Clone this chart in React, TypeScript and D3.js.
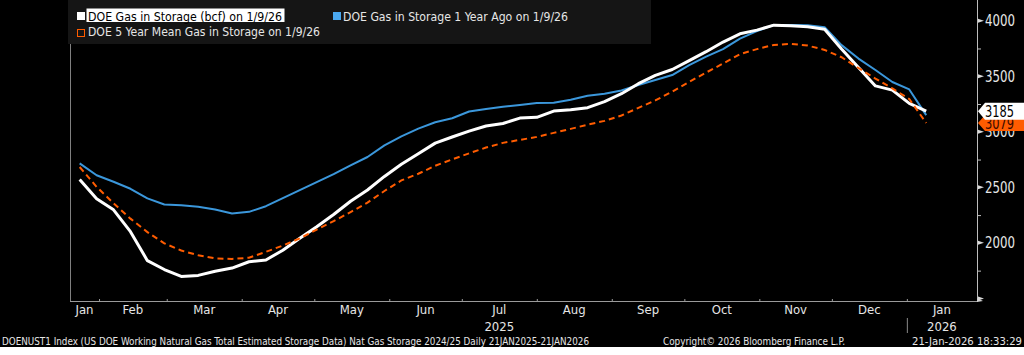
import React from "react";
import * as d3 from "d3";

// ---- Data (weekly, Bcf) ----
const firstWeek = new Date(Date.UTC(2025, 0, 24));
const storage = [2571, 2397, 2297, 2101, 1840, 1760, 1698, 1707, 1744, 1773, 1830, 1846, 1934, 2041, 2145, 2255, 2375, 2476, 2598, 2707, 2802, 2898, 2953, 3006, 3052, 3075, 3123, 3130, 3186, 3199, 3217, 3272, 3343, 3433, 3508, 3561, 3641, 3721, 3808, 3882, 3915, 3960, 3955, 3945, 3923, 3746, 3579, 3413, 3375, 3256, 3185];
const yearAgo = [2716, 2609, 2550, 2487, 2400, 2345, 2338, 2325, 2301, 2265, 2279, 2330, 2402, 2474, 2546, 2618, 2698, 2773, 2878, 2959, 3028, 3086, 3122, 3183, 3206, 3226, 3242, 3260, 3261, 3288, 3325, 3342, 3372, 3421, 3466, 3511, 3601, 3677, 3744, 3839, 3906, 3961, 3961, 3958, 3942, 3780, 3659, 3556, 3448, 3381, 3150];
const fiveYearMean = [2683, 2504, 2357, 2218, 2097, 1996, 1931, 1889, 1861, 1855, 1866, 1919, 1976, 2040, 2120, 2195, 2277, 2362, 2467, 2562, 2622, 2694, 2752, 2806, 2858, 2900, 2927, 2954, 2990, 3026, 3064, 3098, 3147, 3215, 3282, 3362, 3450, 3533, 3614, 3699, 3744, 3782, 3791, 3776, 3737, 3671, 3574, 3479, 3390, 3295, 3079];

const yTicksMajor = [1500, 2000, 2500, 3000, 3500, 4000];
const yTicksMinor = [1750, 2250, 2750, 3250, 3750];
const legendLabels = [
  "DOE Gas in Storage (bcf) on 1/9/26",
  "DOE Gas in Storage 1 Year Ago on 1/9/26",
  "DOE 5 Year Mean Gas in Storage on 1/9/26",
];
const footerLeft = "DOENUST1 Index (US DOE Working Natural Gas Total Estimated Storage Data) Nat Gas Storage 2024/25 Daily 21JAN2025-21JAN2026";
const footerMid = "Copyright\u00a9 2026 Bloomberg Finance L.P.";
const footerRight = "21-Jan-2026 18:33:29";

const W = 1024;
const H = 355;
const PLOT_L = 70;
const PLOT_R = 977;
const AXIS_Y = 301;

const FONT = "'DejaVu Sans Condensed', 'DejaVu Sans', sans-serif";
const WHITE = "#ffffff";
const BLUE = "#3b97db";
const ORANGE = "#ff5c00";

export default function App() {
  const domainStart = new Date(Date.UTC(2025, 0, 20));
  const domainEnd = new Date(Date.UTC(2026, 0, 30));
  const x = d3.scaleUtc().domain([domainStart, domainEnd]).range([PLOT_L, PLOT_R]);
  const y = d3.scaleLinear().domain([1500, 4000]).range([298.4, 20.7]);

  const dates = storage.map((_, i) => d3.utcDay.offset(firstWeek, 7 * i));
  const line = d3
    .line<number>()
    .x((_, i) => x(dates[i]))
    .y((d) => y(d));

  const months = d3.utcMonth.range(d3.utcMonth.floor(domainStart), domainEnd);
  const monthBounds = d3.utcMonth.range(d3.utcMonth.ceil(domainStart), domainEnd);
  const monthLabels = months.map((m) => {
    const a = Math.max(x(m), PLOT_L);
    const b = Math.min(x(d3.utcMonth.offset(m, 1)), PLOT_R);
    return { m, cx: (a + b) / 2 };
  });
  const yearLabels = [2025, 2026].map((yr) => {
    const ms = monthLabels.filter((d) => d.m.getUTCFullYear() === yr);
    const mid = ms[Math.floor(ms.length / 2)] || ms[0];
    return { yr, cx: mid.cx };
  });
  const yearBoundaries = d3.utcYear.range(d3.utcYear.ceil(domainStart), domainEnd);

  const lastStorage = storage[storage.length - 1];
  const lastMean = fiveYearMean[fiveYearMean.length - 1];
  const labelBox = (v: number, h: number) => {
    const cy = y(v);
    const x0 = PLOT_R + 1;
    return `M${x0},${cy} L${x0 + 7},${cy - h / 2} L${W},${cy - h / 2} L${W},${cy + h / 2} L${x0 + 7},${cy + h / 2} Z`;
  };

  return (
    <svg
      width={W}
      height={H}
      style={{ position: "absolute", left: 0, top: 0, display: "block" }}
      fontFamily={FONT}
    >
      <rect x={0} y={0} width={W} height={347} fill="#000" />
      <rect x={0} y={347} width={W} height={H - 347} fill="#fff" />

      {/* frame */}
      <line x1={PLOT_L + 0.5} x2={PLOT_L + 0.5} y1={0} y2={AXIS_Y} stroke="#808080" strokeWidth={1} />
      <line x1={PLOT_L} x2={PLOT_R} y1={AXIS_Y + 0.5} y2={AXIS_Y + 0.5} stroke="#9a9a9a" strokeWidth={1} />
      <line x1={PLOT_R + 0.5} x2={PLOT_R + 0.5} y1={0} y2={AXIS_Y + 1} stroke="#bdbdbd" strokeWidth={1} />
      <path d={`M${PLOT_R},${AXIS_Y - 3} L${PLOT_R + 6},${AXIS_Y} L${PLOT_R},${AXIS_Y + 1} Z`} fill="#d0d0d0" />

      {/* x ticks */}
      {monthBounds.map((m, i) => (
        <line key={i} x1={x(m) + 0.5} x2={x(m) + 0.5} y1={AXIS_Y - 2} y2={AXIS_Y} stroke="#9a9a9a" />
      ))}
      {monthLabels.map((d, i) => (
        <text key={i} x={d.cx} y={314} fill="#e6e6e6" fontSize={13} textAnchor="middle">
          {d3.utcFormat("%b")(d.m)}
        </text>
      ))}
      {yearLabels.map((d) => (
        <text key={d.yr} x={d.cx} y={330.5} fill="#e6e6e6" fontSize={13} textAnchor="middle">
          {d.yr}
        </text>
      ))}
      {yearBoundaries.map((b, i) => (
        <line key={i} x1={x(b) + 0.5} x2={x(b) + 0.5} y1={318} y2={333} stroke="#8a8a8a" />
      ))}

      {/* y ticks */}
      {yTicksMinor.map((t) => (
        <line key={t} x1={PLOT_R + 1} x2={PLOT_R + 4} y1={y(t) + 0.5} y2={y(t) + 0.5} stroke="#bdbdbd" />
      ))}
      {yTicksMajor.map((t) => (
        <path key={t} d={`M${PLOT_R + 1},${y(t) - 2} L${PLOT_R + 7},${y(t)} L${PLOT_R + 1},${y(t) + 2} Z`} fill="#d8d8d8" />
      ))}
      {yTicksMajor
        .filter((t) => t > 1500)
        .map((t) => (
          <text key={t} x={985} y={y(t)} dy="0.36em" fill="#e6e6e6" fontSize={15} textLength={30} lengthAdjust="spacingAndGlyphs">
            {t}
          </text>
        ))}

      {/* series */}
      <path d={line(yearAgo) || ""} fill="none" stroke={BLUE} strokeWidth={2} strokeLinejoin="round" />
      <path d={line(storage) || ""} fill="none" stroke={WHITE} strokeWidth={3} strokeLinejoin="round" />
      <path d={line(fiveYearMean) || ""} fill="none" stroke={ORANGE} strokeWidth={2} strokeDasharray="6,4" />

      {/* last value labels */}
      <path d={labelBox(lastMean, 16)} fill={ORANGE} />
      <text x={985} y={y(lastMean) + 1} dy="0.36em" fill="#3a0a00" fontSize={15} textLength={29} lengthAdjust="spacingAndGlyphs">
        {lastMean}
      </text>
      <path d={labelBox(lastStorage, 17)} fill="#fff" />
      <text x={985} y={y(lastStorage)} dy="0.36em" fill="#000" fontSize={15} textLength={29} lengthAdjust="spacingAndGlyphs">
        {lastStorage}
      </text>

      {/* legend */}
      <rect x={68} y={-1} width={583} height={45} fill="#151515" />
      <rect x={77} y={12} width={8} height={8} fill={WHITE} />
      <rect x={86.5} y={8.5} width={198} height={13.5} fill="#fff" />
      <text x={88} y={20.5} fill="#000" fontSize={13} textLength={194} lengthAdjust="spacingAndGlyphs">
        {legendLabels[0]}
      </text>
      <rect x={333} y={12} width={8} height={8} fill="#4aa8f0" />
      <text x={343} y={20.5} fill="#e6e6e6" fontSize={13} textLength={225} lengthAdjust="spacingAndGlyphs">
        {legendLabels[1]}
      </text>
      <rect x={77.5} y={29.5} width={7} height={7} fill="none" stroke={ORANGE} strokeWidth={1} />
      <text x={88} y={35.5} fill="#e6e6e6" fontSize={13} textLength={232} lengthAdjust="spacingAndGlyphs">
        {legendLabels[2]}
      </text>

      {/* footer */}
      <text x={2} y={345} fill="#e6e6e6" fontSize={10.5} textLength={587} lengthAdjust="spacingAndGlyphs">
        {footerLeft}
      </text>
      <text x={663} y={345} fill="#e6e6e6" fontSize={10.5} textLength={182} lengthAdjust="spacingAndGlyphs">
        {footerMid}
      </text>
      <text x={1022} y={345} fill="#e6e6e6" fontSize={10.5} textAnchor="end" textLength={110} lengthAdjust="spacingAndGlyphs">
        {footerRight}
      </text>
    </svg>
  );
}
